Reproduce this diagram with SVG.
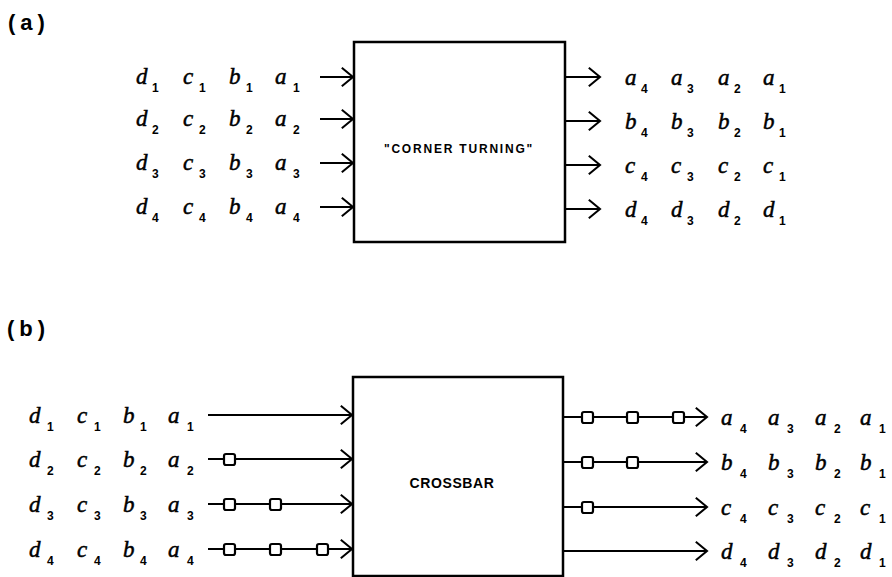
<svg xmlns="http://www.w3.org/2000/svg" width="892" height="577" viewBox="0 0 892 577">
  <defs>
    <style>
      .v { font-family: "Liberation Serif", serif; font-style: italic; font-size: 23px; fill: #000; stroke: #000; stroke-width: 0.5; }
      .s { font-family: "Liberation Sans", Arial, sans-serif; font-weight: bold; font-size: 12px; fill: #000; }
      .tag { font-family: "Liberation Sans", Arial, sans-serif; font-weight: bold; font-size: 22px; letter-spacing: 5px; fill: #000; }
      .box { fill: #fff; stroke: #000; stroke-width: 2.5; }
      .lbl { font-family: "Liberation Sans", Arial, sans-serif; font-weight: bold; fill: #000; text-anchor: middle; }
      .wire { stroke: #000; stroke-width: 2.2; fill: none; marker-end: url(#chev); }
      .reg { fill: #fff; stroke: #000; stroke-width: 2.2; }
    </style>
    <marker id="chev" markerUnits="userSpaceOnUse" markerWidth="14" markerHeight="24" viewBox="-14 -12 15 24" refX="0" refY="0" orient="auto" overflow="visible">
      <path d="M-12,-10 L0,0 L-12,10" fill="none" stroke="#000" stroke-width="2.2"/>
    </marker>
  </defs>

  <rect width="892" height="577" fill="#fff"/>

  <!-- panel labels -->
  <text class="tag" x="8" y="30">(a)</text>
  <text class="tag" x="7" y="336">(b)</text>

  <!-- (a) corner turning block -->
  <g id="corner-turning">
    <rect class="box" x="354" y="42" width="211" height="200"/>
    <text class="lbl" x="459" y="153" font-size="12" letter-spacing="1.8">"CORNER TURNING"</text>
  </g>

  <!-- (b) crossbar block -->
  <g id="crossbar">
    <rect class="box" x="353" y="377" width="210" height="199"/>
    <text class="lbl" x="452" y="488" font-size="14" letter-spacing="0.6">CROSSBAR</text>
  </g>

  <!-- (a) input streams -->
  <g id="a-inputs">
    <text class="v" x="136" y="84">d</text><text class="s" x="152" y="92">1</text>
    <text class="v" x="183" y="84">c</text><text class="s" x="199" y="92">1</text>
    <text class="v" x="229" y="84">b</text><text class="s" x="246" y="92">1</text>
    <text class="v" x="275" y="84">a</text><text class="s" x="293" y="92">1</text>

    <text class="v" x="136" y="126">d</text><text class="s" x="152" y="134">2</text>
    <text class="v" x="183" y="126">c</text><text class="s" x="199" y="134">2</text>
    <text class="v" x="229" y="126">b</text><text class="s" x="246" y="134">2</text>
    <text class="v" x="275" y="126">a</text><text class="s" x="293" y="134">2</text>

    <text class="v" x="136" y="170">d</text><text class="s" x="152" y="178">3</text>
    <text class="v" x="183" y="170">c</text><text class="s" x="199" y="178">3</text>
    <text class="v" x="229" y="170">b</text><text class="s" x="246" y="178">3</text>
    <text class="v" x="275" y="170">a</text><text class="s" x="293" y="178">3</text>

    <text class="v" x="136" y="214">d</text><text class="s" x="152" y="222">4</text>
    <text class="v" x="183" y="214">c</text><text class="s" x="199" y="222">4</text>
    <text class="v" x="229" y="214">b</text><text class="s" x="246" y="222">4</text>
    <text class="v" x="275" y="214">a</text><text class="s" x="293" y="222">4</text>
  </g>

  <!-- (a) output streams -->
  <g id="a-outputs">
    <text class="v" x="625" y="85">a</text><text class="s" x="641" y="93">4</text>
    <text class="v" x="671" y="85">a</text><text class="s" x="687" y="93">3</text>
    <text class="v" x="718" y="85">a</text><text class="s" x="734" y="93">2</text>
    <text class="v" x="763" y="85">a</text><text class="s" x="779" y="93">1</text>

    <text class="v" x="625" y="129">b</text><text class="s" x="641" y="137">4</text>
    <text class="v" x="671" y="129">b</text><text class="s" x="687" y="137">3</text>
    <text class="v" x="718" y="129">b</text><text class="s" x="734" y="137">2</text>
    <text class="v" x="763" y="129">b</text><text class="s" x="779" y="137">1</text>

    <text class="v" x="625" y="173">c</text><text class="s" x="641" y="181">4</text>
    <text class="v" x="671" y="173">c</text><text class="s" x="687" y="181">3</text>
    <text class="v" x="718" y="173">c</text><text class="s" x="734" y="181">2</text>
    <text class="v" x="763" y="173">c</text><text class="s" x="779" y="181">1</text>

    <text class="v" x="625" y="217">d</text><text class="s" x="641" y="225">4</text>
    <text class="v" x="671" y="217">d</text><text class="s" x="687" y="225">3</text>
    <text class="v" x="718" y="217">d</text><text class="s" x="734" y="225">2</text>
    <text class="v" x="763" y="217">d</text><text class="s" x="779" y="225">1</text>
  </g>

  <!-- (b) input streams -->
  <g id="b-inputs">
    <text class="v" x="29" y="423">d</text><text class="s" x="47" y="431">1</text>
    <text class="v" x="77" y="423">c</text><text class="s" x="94" y="431">1</text>
    <text class="v" x="123" y="423">b</text><text class="s" x="140" y="431">1</text>
    <text class="v" x="168" y="423">a</text><text class="s" x="187" y="431">1</text>

    <text class="v" x="29" y="467">d</text><text class="s" x="47" y="475">2</text>
    <text class="v" x="77" y="467">c</text><text class="s" x="94" y="475">2</text>
    <text class="v" x="123" y="467">b</text><text class="s" x="140" y="475">2</text>
    <text class="v" x="168" y="467">a</text><text class="s" x="187" y="475">2</text>

    <text class="v" x="29" y="512">d</text><text class="s" x="47" y="520">3</text>
    <text class="v" x="77" y="512">c</text><text class="s" x="94" y="520">3</text>
    <text class="v" x="123" y="512">b</text><text class="s" x="140" y="520">3</text>
    <text class="v" x="168" y="512">a</text><text class="s" x="187" y="520">3</text>

    <text class="v" x="29" y="557">d</text><text class="s" x="47" y="565">4</text>
    <text class="v" x="77" y="557">c</text><text class="s" x="94" y="565">4</text>
    <text class="v" x="123" y="557">b</text><text class="s" x="140" y="565">4</text>
    <text class="v" x="168" y="557">a</text><text class="s" x="187" y="565">4</text>
  </g>

  <!-- (b) output streams -->
  <g id="b-outputs">
    <text class="v" x="721" y="425">a</text><text class="s" x="740" y="433">4</text>
    <text class="v" x="768" y="425">a</text><text class="s" x="787" y="433">3</text>
    <text class="v" x="815" y="425">a</text><text class="s" x="834" y="433">2</text>
    <text class="v" x="860" y="425">a</text><text class="s" x="879" y="433">1</text>

    <text class="v" x="721" y="470">b</text><text class="s" x="740" y="478">4</text>
    <text class="v" x="768" y="470">b</text><text class="s" x="787" y="478">3</text>
    <text class="v" x="815" y="470">b</text><text class="s" x="834" y="478">2</text>
    <text class="v" x="860" y="470">b</text><text class="s" x="879" y="478">1</text>

    <text class="v" x="721" y="515">c</text><text class="s" x="740" y="523">4</text>
    <text class="v" x="768" y="515">c</text><text class="s" x="787" y="523">3</text>
    <text class="v" x="815" y="515">c</text><text class="s" x="834" y="523">2</text>
    <text class="v" x="860" y="515">c</text><text class="s" x="879" y="523">1</text>

    <text class="v" x="721" y="559">d</text><text class="s" x="740" y="567">4</text>
    <text class="v" x="768" y="559">d</text><text class="s" x="787" y="567">3</text>
    <text class="v" x="815" y="559">d</text><text class="s" x="834" y="567">2</text>
    <text class="v" x="860" y="559">d</text><text class="s" x="879" y="567">1</text>
  </g>

  <!-- connectors -->
  <g id="connectors">
    <!-- (a) inputs -->
    <line class="wire" x1="320" y1="77" x2="353" y2="77"/>
    <line class="wire" x1="320" y1="119" x2="353" y2="119"/>
    <line class="wire" x1="320" y1="163" x2="353" y2="163"/>
    <line class="wire" x1="320" y1="207" x2="353" y2="207"/>
    <!-- (a) outputs -->
    <line class="wire" x1="566" y1="77" x2="600" y2="77"/>
    <line class="wire" x1="566" y1="121" x2="600" y2="121"/>
    <line class="wire" x1="566" y1="165" x2="600" y2="165"/>
    <line class="wire" x1="566" y1="209" x2="600" y2="209"/>
    <!-- (b) inputs -->
    <line class="wire" x1="208" y1="415" x2="352" y2="415"/>
    <line class="wire" x1="208" y1="459" x2="352" y2="459"/>
    <line class="wire" x1="208" y1="504" x2="352" y2="504"/>
    <line class="wire" x1="208" y1="549" x2="352" y2="549"/>
    <!-- (b) outputs -->
    <line class="wire" x1="564" y1="417" x2="707" y2="417"/>
    <line class="wire" x1="564" y1="462" x2="707" y2="462"/>
    <line class="wire" x1="564" y1="507" x2="707" y2="507"/>
    <line class="wire" x1="564" y1="551" x2="707" y2="551"/>
  </g>

  <!-- delay registers on the crossbar wires -->
  <g id="b-input-registers">
    <rect class="reg" x="224" y="454" width="11" height="11" rx="2"/>
    <rect class="reg" x="224" y="499" width="11" height="11" rx="2"/>
    <rect class="reg" x="270" y="499" width="11" height="11" rx="2"/>
    <rect class="reg" x="224" y="544" width="11" height="11" rx="2"/>
    <rect class="reg" x="270" y="544" width="11" height="11" rx="2"/>
    <rect class="reg" x="317" y="544" width="11" height="11" rx="2"/>
  </g>
  <g id="b-output-registers">
    <rect class="reg" x="582" y="412" width="11" height="11" rx="2"/>
    <rect class="reg" x="627" y="412" width="11" height="11" rx="2"/>
    <rect class="reg" x="673" y="412" width="11" height="11" rx="2"/>
    <rect class="reg" x="582" y="457" width="11" height="11" rx="2"/>
    <rect class="reg" x="627" y="457" width="11" height="11" rx="2"/>
    <rect class="reg" x="582" y="502" width="11" height="11" rx="2"/>
  </g>
</svg>
